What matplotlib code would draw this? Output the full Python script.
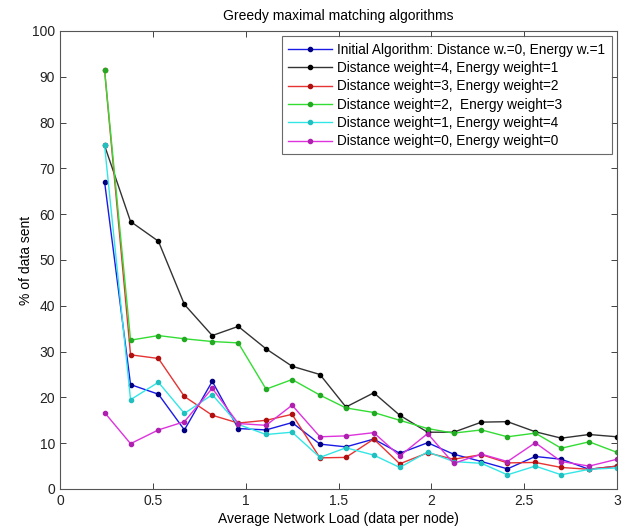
import matplotlib

matplotlib.use("Agg")
import matplotlib.pyplot as plt

plt.rcParams["font.family"] = ["Liberation Sans", "DejaVu Sans"]

# network load points (data per node)
load = [0.24, 0.38, 0.53, 0.67, 0.82, 0.96, 1.11, 1.25, 1.40, 1.54,
        1.69, 1.83, 1.98, 2.12, 2.27, 2.41, 2.56, 2.70, 2.85, 3.00]

initial = [67.1, 22.8, 20.7, 12.9, 23.5, 13.2, 12.9, 14.5, 9.8, 9.2,
           10.9, 7.8, 10.1, 7.6, 6.0, 4.4, 7.1, 6.5, 4.3, 5.0]
dist4_en1 = [75.0, 58.4, 54.1, 40.3, 33.5, 35.5, 30.6, 26.8, 25.0, 17.9,
             21.0, 16.1, 12.4, 12.4, 14.6, 14.7, 12.5, 11.1, 11.9, 11.4]
dist3_en2 = [91.5, 29.3, 28.5, 20.2, 16.1, 14.4, 15.0, 16.3, 6.8, 6.9,
             10.9, 5.5, 7.9, 6.5, 7.5, 5.7, 5.8, 4.7, 4.3, 5.0]
dist2_en3 = [91.5, 32.5, 33.5, 32.8, 32.2, 31.9, 21.8, 23.9, 20.5, 17.7,
             16.7, 15.0, 13.2, 12.2, 12.9, 11.4, 12.2, 8.9, 10.3, 8.0]
dist1_en4 = [75.0, 19.5, 23.3, 16.5, 20.6, 14.1, 11.9, 12.4, 6.9, 9.0,
             7.4, 4.7, 8.1, 6.0, 5.6, 3.1, 5.0, 3.1, 4.3, 4.6]
dist0_en0 = [16.7, 9.9, 12.9, 14.7, 22.0, 14.3, 13.9, 18.3, 11.4, 11.6,
             12.3, 7.2, 12.1, 5.6, 7.6, 6.0, 10.1, 6.0, 5.0, 6.5]

series = [
    ("Initial Algorithm: Distance w.=0, Energy w.=1", initial, "#1a1ae6", "#000080"),
    ("Distance weight=4, Energy weight=1", dist4_en1, "#333333", "#000000"),
    ("Distance weight=3, Energy weight=2", dist3_en2, "#e63333", "#b01010"),
    ("Distance weight=2,  Energy weight=3", dist2_en3, "#33dd33", "#22aa22"),
    ("Distance weight=1, Energy weight=4", dist1_en4, "#33e6e6", "#20c0c0"),
    ("Distance weight=0, Energy weight=0", dist0_en0, "#dd33dd", "#b020b0"),
]

fig = plt.figure(figsize=(6.22, 5.29), dpi=100)
ax = fig.add_axes([60 / 622, 40 / 529, 557 / 622, 458 / 529])

for label, values, color, mcolor in series:
    ax.plot(load, values, color=color, linewidth=1.0, marker=".",
            markersize=6, markerfacecolor=mcolor, markeredgecolor=mcolor,
            label=label)

ax.set_xlim(0, 3)
ax.set_ylim(0, 100)
ax.set_xticks([0, 0.5, 1, 1.5, 2, 2.5, 3])
ax.set_xticklabels(["0", "0.5", "1", "1.5", "2", "2.5", "3"])
ax.set_yticks(range(0, 101, 10))
ax.tick_params(direction="in", top=True, right=True, labelsize=10,
               length=4, width=0.6, colors="#222222")
for spine in ax.spines.values():
    spine.set_color("#555555")
    spine.set_linewidth(0.8)

ax.set_title("Greedy maximal matching algorithms", fontsize=10, pad=8)
ax.set_xlabel("Average Network Load (data per node)", fontsize=10, labelpad=3)
ax.set_ylabel("% of data sent", fontsize=10)
ax.yaxis.set_label_coords(-0.048, 0.5)

leg = ax.legend(loc="upper right", fontsize=9.8, frameon=True, fancybox=False,
                edgecolor="#444444", borderpad=0.45, labelspacing=0.32,
                handlelength=3.2, handletextpad=0.4, borderaxespad=0.4)
leg.get_frame().set_linewidth(0.8)

fig.savefig("out.png", dpi=100, facecolor="white")
